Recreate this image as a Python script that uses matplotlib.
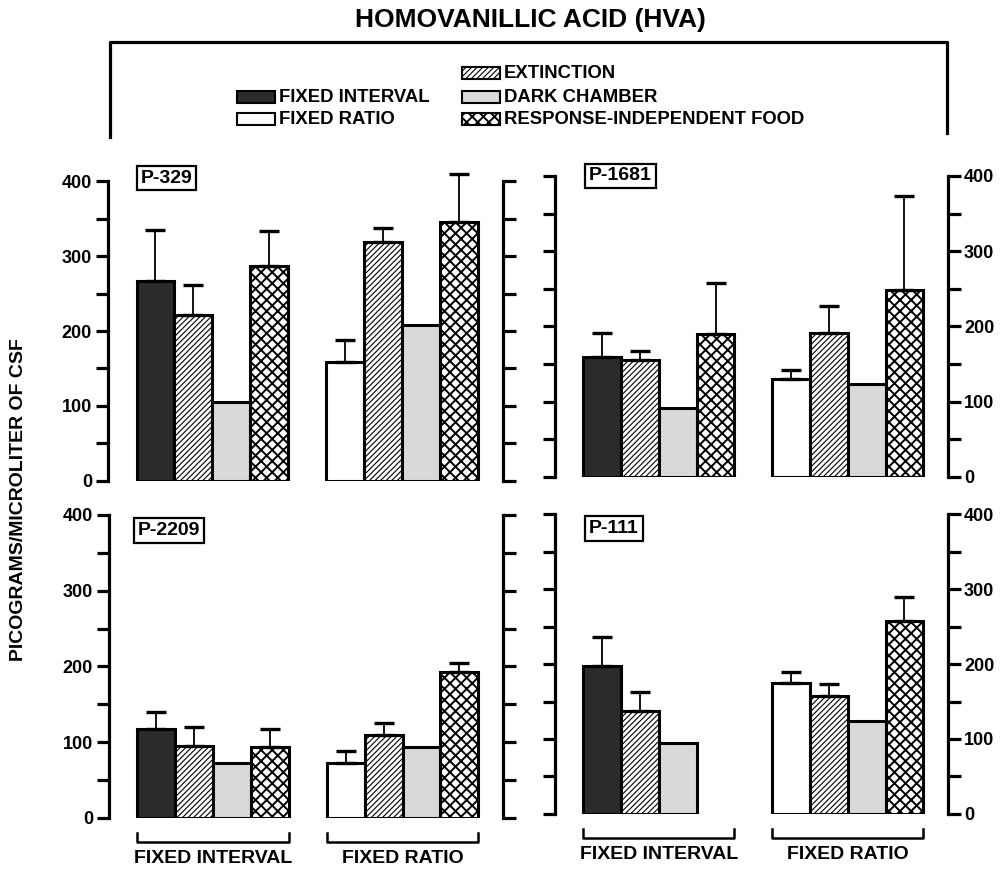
import numpy as np
import matplotlib
matplotlib.use("Agg")
import matplotlib.pyplot as plt
from matplotlib.patches import Rectangle

plt.rcParams['font.family'] = ['Liberation Sans', 'DejaVu Sans']
plt.rcParams['font.weight'] = 'bold'

# 被试编号（四个面板）
subjects = ['P-329', 'P-1681', 'P-2209', 'P-111']
conditions = ['BASELINE', 'EXTINCTION', 'DARK CHAMBER', 'RESPONSE-INDEPENDENT FOOD']
schedules = ['FIXED INTERVAL', 'FIXED RATIO']

# HVA 均值 (pg/ul)，顺序: 基线, 消退, 暗室, 非反应依赖食物
fi_mean = [[267, 221, 105, 287],
           [160, 155, 92, 190],
           [117, 95, 73, 94],
           [198, 137, 95, np.nan]]
fr_mean = [[158, 319, 208, 345],
           [130, 191, 123, 248],
           [73, 109, 94, 193],
           [175, 158, 124, 257]]
# 误差线（只画向上的一半）
fi_err = [[68, 41, np.nan, 47],
          [31, 13, np.nan, 68],
          [23, 25, np.nan, 23],
          [38, 26, np.nan, np.nan]]
fr_err = [[30, 19, np.nan, 65],
          [12, 36, np.nan, 125],
          [15, 17, np.nan, 12],
          [14, 16, np.nan, 33]]

fig = plt.figure(figsize=(10.03, 8.69), dpi=100)

# 每个面板的位置 [left, bottom, width, height]
pos = [[0.1077, 0.4465, 0.3938, 0.3452],
       [0.5533, 0.4511, 0.3918, 0.3464],
       [0.1087, 0.0587, 0.3928, 0.3487],
       [0.5533, 0.0633, 0.3918, 0.3452]]
tag_xy = [(0.083, 1.01), (0.087, 1.0), (0.074, 0.95), (0.087, 0.952)]

fill = {'fc': ['#2b2b2b', '#ffffff'], 'ext': '//////', 'dark': '#d9d9d9', 'rif': 'xxx'}
hatch_lw = {'': 1.0, fill['ext']: 0.8, fill['rif']: 1.4}


def patch_style(k, first_color):
    return [dict(color=first_color, hatch=''),
            dict(color='white', hatch=fill['ext']),
            dict(color=fill['dark'], hatch=''),
            dict(color='white', hatch=fill['rif'])][k]


def draw_group(ax, x0, means, errs, first_color):
    xs = x0 + np.arange(4)
    for k, (x, m) in enumerate(zip(xs, means)):
        if np.isnan(m):
            continue
        st = patch_style(k, first_color)
        with plt.rc_context({'hatch.linewidth': hatch_lw[st['hatch']]}):
            ax.bar(x, m, width=1.0, edgecolor='black', linewidth=2.2, zorder=2, **st)
    for x, m, e in zip(xs, means, errs):
        if np.isnan(m) or np.isnan(e):
            continue
        eb = ax.errorbar(x, m, yerr=[[0], [e]], fmt='none', ecolor='black',
                         elinewidth=1.3, capsize=7, capthick=2.4, zorder=3)
        for art in eb.lines[1] + eb.lines[2]:
            art.set_clip_on(False)


for i, name in enumerate(subjects):
    ax = fig.add_axes(pos[i])
    draw_group(ax, 0, fi_mean[i], fi_err[i], fill['fc'][0])
    draw_group(ax, 5, fr_mean[i], fr_err[i], fill['fc'][1])
    ax.set_xlim(-1.25, 9.15)
    ax.set_ylim(0, 400)
    ax.set_xticks([])
    ticks = np.arange(0, 401, 50)
    ax.set_yticks(ticks)
    ax.set_yticklabels([str(t) if t % 100 == 0 else '' for t in ticks])
    for s in ['top', 'bottom']:
        ax.spines[s].set_visible(False)
    for s in ['left', 'right']:
        ax.spines[s].set_linewidth(2.3)
    left_side = i % 2 == 0
    ax.tick_params(axis='y', direction='out', length=9, width=2.3, pad=2.5,
                   left=True, right=True, labelleft=left_side,
                   labelright=not left_side, labelsize=13)
    ax.text(tag_xy[i][0], tag_xy[i][1], name, transform=ax.transAxes,
            ha='left', va='center', fontsize=14, clip_on=False,
            bbox=dict(boxstyle='square,pad=0.2', fc='white', ec='black', lw=1.6))
    # 底部面板加分组括号
    if i >= 2:
        tr = ax.get_xaxis_transform()
        for x0, lab in zip([0, 5], schedules):
            ax.plot([x0 - 0.5, x0 - 0.5, x0 + 3.5, x0 + 3.5],
                    [-0.05, -0.079, -0.079, -0.05], color='black', lw=1.8,
                    transform=tr, clip_on=False)
            ax.text(x0 + 1.5, -0.135, lab, transform=tr, ha='center',
                    va='center', fontsize=14)

fig.text(0.018, 0.4246, 'PICOGRAMS/MICROLITER OF CSF', rotation=90,
         ha='center', va='center', fontsize=14)
fig.text(0.529, 0.977, 'HOMOVANILLIC ACID (HVA)', ha='center', va='center',
         fontsize=19)

# 图例区域（用像素坐标的覆盖层）
ov = fig.add_axes([0, 0, 1, 1], facecolor='none')
ov.set_xlim(0, 1003)
ov.set_ylim(869, 0)
ov.axis('off')
ov.plot([110, 110, 947, 947], [137, 42, 42, 133], color='black', lw=2.3)

legend_rows = [(237, 97, dict(fc=fill['fc'][0], hatch=''), 'FIXED INTERVAL'),
               (237, 119, dict(fc='white', hatch=''), 'FIXED RATIO'),
               (462, 73, dict(fc='white', hatch=fill['ext']), 'EXTINCTION'),
               (462, 97, dict(fc=fill['dark'], hatch=''), 'DARK CHAMBER'),
               (462, 119, dict(fc='white', hatch=fill['rif']), 'RESPONSE-INDEPENDENT FOOD')]
for x, y, st, lab in legend_rows:
    with plt.rc_context({'hatch.linewidth': hatch_lw[st['hatch']]}):
        ov.add_patch(Rectangle((x, y - 6), 38, 12, ec='black', lw=1.5, **st))
    ov.text(x + 42, y, lab, ha='left', va='center', fontsize=13.3)

fig.savefig('out.png', dpi=100)
